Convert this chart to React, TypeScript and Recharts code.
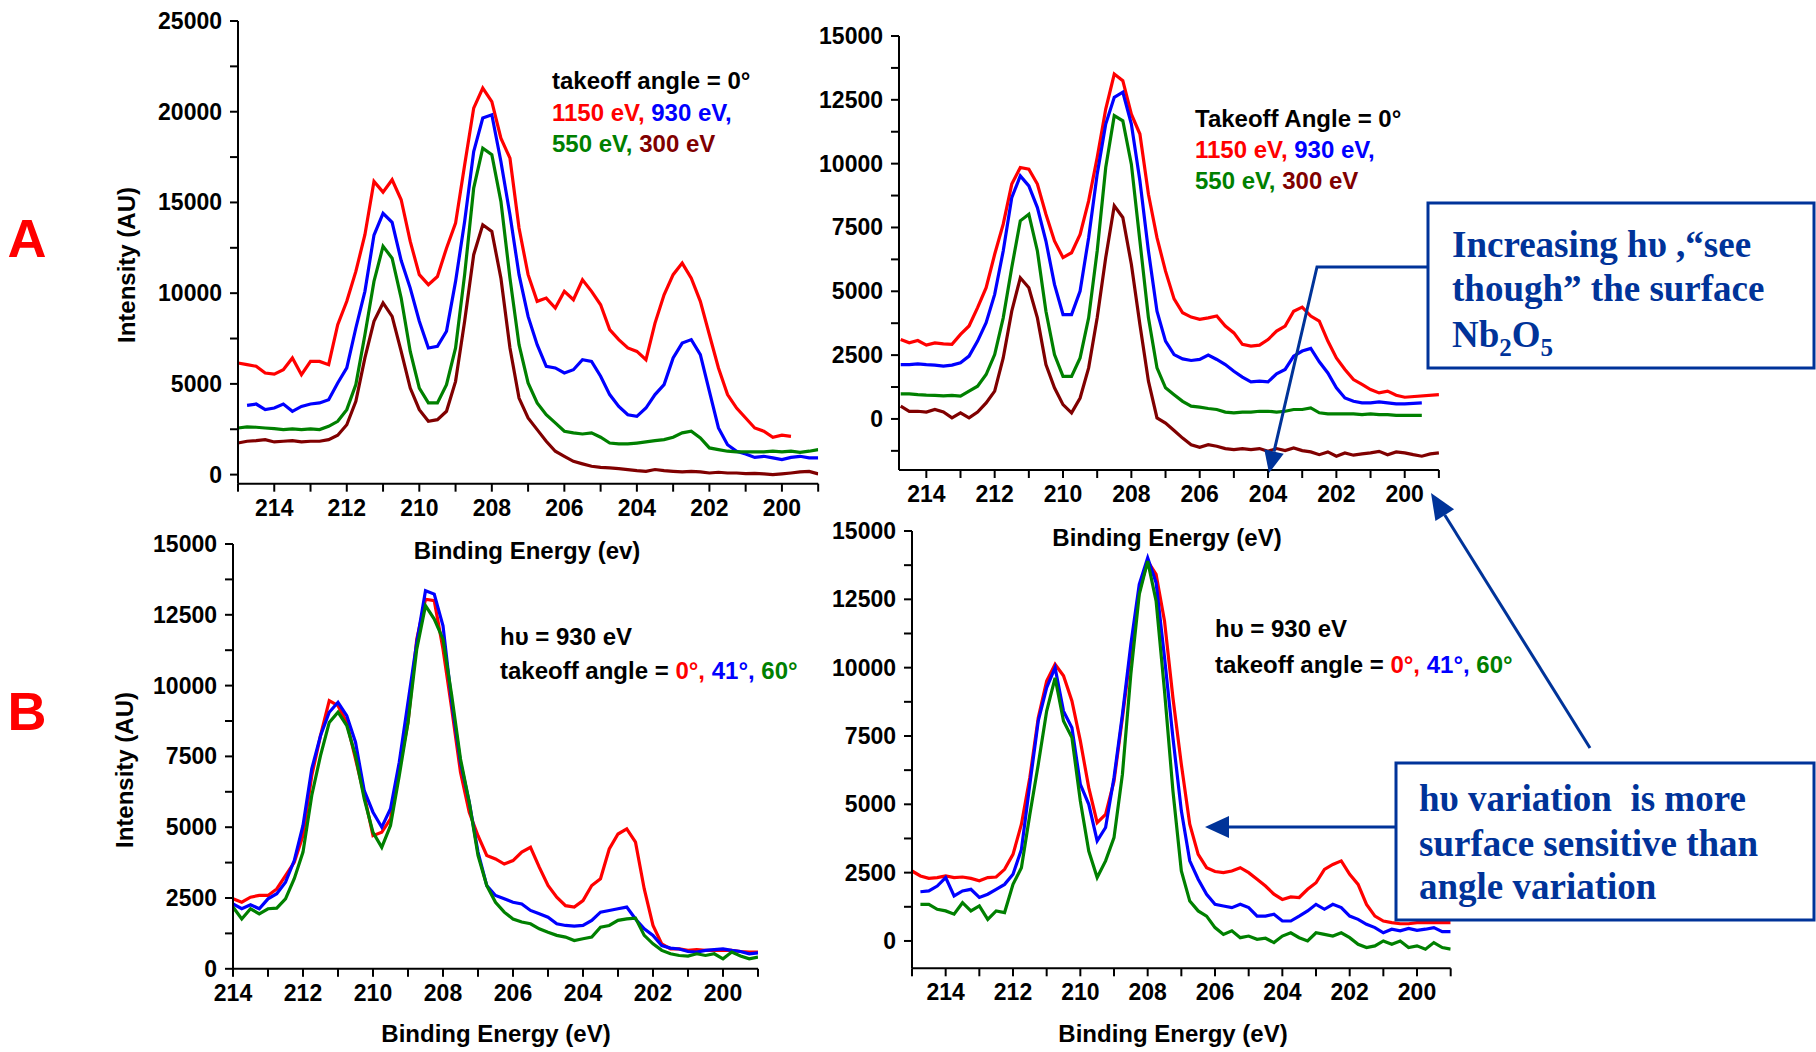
import React from 'react'
import { LineChart, Line, XAxis, YAxis } from 'recharts'

const SANS = "'Liberation Sans', Arial, Helvetica, sans-serif"
const SERIF = "'Liberation Serif', 'Times New Roman', serif"
const RED = '#ff0000'
const BLUE = '#0000ff'
const GREEN = '#008000'
const MAROON = '#800000'
const NAVY = '#003399'

// binding energy grid (eV), high -> low
const ENERGY = [
  215,
  214.75, 214.5, 214.25, 214,
  213.75, 213.5, 213.25, 213,
  212.75, 212.5, 212.25, 212,
  211.75, 211.5, 211.25, 211,
  210.75, 210.5, 210.25, 210,
  209.75, 209.5, 209.25, 209,
  208.75, 208.5, 208.25, 208,
  207.75, 207.5, 207.25, 207,
  206.75, 206.5, 206.25, 206,
  205.75, 205.5, 205.25, 205,
  204.75, 204.5, 204.25, 204,
  203.75, 203.5, 203.25, 203,
  202.75, 202.5, 202.25, 202,
  201.75, 201.5, 201.25, 201,
  200.75, 200.5, 200.25, 200,
  199.75, 199.5, 199.25, 199,
]

// A, left: takeoff angle 0, photon energy series
const A1_1150 = [
  6150,
  6060, 5970, 5600, 5540,
  5780, 6430, 5510, 6240,
  6240, 6060, 8260, 9550,
  11200, 13220, 16160, 15570,
  16250, 15150, 12850, 11020,
  10470, 10920, 12480, 13860,
  17070, 20200, 21300, 20560,
  18540, 17440, 13590, 11020,
  9550, 9730, 9180, 10100,
  9640, 10740, 10100, 9360,
  7990, 7440, 6980, 6790,
  6330, 8350, 9910, 11020,
  11660, 10830, 9550, 7710,
  5880, 4410, 3670, 3120,
  2570, 2390, 2060, 2170,
  2110, null, null, null,
]
const A1_930 = [
  null,
  3820, 3890, 3580, 3670,
  3890, 3490, 3760, 3890,
  3950, 4130, 5050, 5880,
  8080, 10100, 13200, 14400,
  13900, 11800, 10280, 8450,
  6980, 7070, 7900, 10650,
  13950, 17810, 19650, 19830,
  17260, 14320, 11020, 8720,
  7160, 5970, 5880, 5600,
  5780, 6330, 6240, 5420,
  4410, 3760, 3300, 3210,
  3670, 4410, 4960, 6430,
  7250, 7440, 6610, 4590,
  2570, 1650, 1290, 1140,
  950, 1010, 920, 830,
  950, 1010, 920, 920,
]
const A1_550 = [
  2570,
  2630, 2610, 2570, 2530,
  2480, 2520, 2480, 2520,
  2480, 2660, 2940, 3580,
  4960, 7710, 10650, 12580,
  11930, 9730, 6790, 4770,
  3950, 3950, 4960, 6980,
  11020, 15790, 17990, 17630,
  15060, 10830, 7160, 5050,
  3950, 3300, 2850, 2390,
  2300, 2240, 2300, 2060,
  1740, 1690, 1690, 1740,
  1800, 1870, 1930, 2060,
  2300, 2390, 2020, 1470,
  1380, 1290, 1250, 1250,
  1250, 1250, 1290, 1250,
  1290, 1230, 1290, 1380,
]
const A1_300 = [
  1740,
  1840, 1870, 1930, 1800,
  1840, 1870, 1800, 1840,
  1840, 1930, 2170, 2750,
  4040, 6430, 8450, 9460,
  8720, 6790, 4770, 3580,
  2940, 3030, 3490, 5140,
  8450, 12120, 13770, 13400,
  10830, 6980, 4220, 3120,
  2480, 1840, 1290, 1010,
  730, 590, 460, 400,
  370, 330, 280, 220,
  180, 280, 220, 180,
  150, 180, 150, 90,
  130, 90, 90, 60,
  70, 40, 0, 40,
  90, 150, 180, 40,
]

// A, right
const A2_1150 = [
  null,
  3110, 2980, 3070, 2890,
  2980, 2940, 2920, 3310,
  3640, 4360, 5140, 6450,
  7630, 9200, 9850, 9780,
  9200, 8020, 6970, 6320,
  6510, 7230, 8540, 10240,
  12140, 13510, 13250, 11940,
  11160, 8800, 7100, 5790,
  4700, 4160, 3990, 3900,
  3960, 4030, 3640, 3370,
  2920, 2850, 2890, 3110,
  3440, 3640, 4220, 4380,
  4030, 3830, 3050, 2390,
  1940, 1540, 1350, 1150,
  1020, 1090, 930, 850,
  null, null, null, 950,
]
const A2_930 = [
  null,
  2130, 2130, 2160, 2130,
  2110, 2070, 2110, 2200,
  2460, 3050, 3770, 4880,
  6580, 8670, 9520, 9130,
  8280, 6970, 5270, 4090,
  4090, 5010, 7100, 9590,
  11550, 12600, 12800, 11550,
  9330, 6580, 4220, 3050,
  2520, 2350, 2290, 2330,
  2500, 2330, 2130, 1870,
  1640, 1450, 1480, 1450,
  1770, 1940, 2460, 2660,
  2760, 2240, 1800, 1220,
  820, 690, 630, 630,
  670, 630, 590, 590,
  610, 630, null, null,
]
const A2_550 = [
  null,
  980, 980, 950, 930,
  920, 900, 920, 890,
  1090, 1280, 1740, 2520,
  3960, 5930, 7760, 8020,
  6580, 4220, 2520, 1670,
  1670, 2390, 3960, 6580,
  9850, 11880, 11680, 9980,
  6970, 3960, 2000, 1220,
  950, 690, 500, 460,
  410, 370, 270, 240,
  270, 270, 300, 300,
  270, 300, 370, 370,
  430, 240, 200, 200,
  200, 200, 170, 200,
  170, 170, 140, 140,
  140, 140, null, null,
]
const A2_300 = [
  null,
  500, 300, 300, 270,
  370, 270, 40, 240,
  40, 270, 630, 1090,
  2390, 4220, 5530, 5140,
  3960, 2130, 1220, 560,
  240, 820, 2000, 3960,
  6320, 8350, 7890, 6060,
  3700, 1480, 40, -160,
  -450, -750, -1010, -1110,
  -1010, -1070, -1160, -1200,
  -1160, -1200, -1160, -1270,
  -1160, -1240, -1140, -1240,
  -1290, -1400, -1290, -1460,
  -1330, -1420, -1370, -1330,
  -1270, -1400, -1290, -1330,
  -1400, -1460, -1370, -1330,
]

// B, left: hυ = 930 eV, takeoff angle series
const B1_0 = [
  null,
  null, null, null, 2470,
  2350, 2530, 2590, 2590,
  2820, 3290, 3760, 4700,
  6820, 8230, 9470, 9290,
  8700, 7410, 6120, 4700,
  4820, 5290, 7060, 8700,
  11640, 13050, 13000, 11290,
  9170, 6940, 5530, 4700,
  4000, 3880, 3700, 3820,
  4120, 4290, 3590, 2940,
  2530, 2230, 2180, 2410,
  2940, 3180, 4230, 4760,
  4940, 4470, 2820, 1530,
  880, 700, 700, 650,
  680, 650, 650, 650,
  650, 610, 590, 590,
]
const B1_41 = [
  null,
  null, null, null, 2290,
  2120, 2260, 2120, 2470,
  2650, 3060, 3820, 5060,
  7060, 8230, 9060, 9410,
  8940, 8000, 6290, 5530,
  5000, 5650, 7290, 9410,
  11520, 13350, 13230, 12110,
  9410, 7290, 5880, 4120,
  2940, 2590, 2470, 2350,
  2290, 2060, 1940, 1820,
  1590, 1530, 1510, 1530,
  1710, 2000, 2060, 2120,
  2180, 1760, 1410, 1180,
  820, 730, 700, 610,
  590, 650, 680, 700,
  650, 610, 530, 560,
]
const B1_60 = [
  null,
  null, null, null, 2180,
  1760, 2120, 1940, 2120,
  2140, 2470, 3180, 4120,
  6120, 7530, 8700, 9060,
  8590, 7530, 6000, 4820,
  4290, 5060, 6820, 8700,
  11290, 12820, 12350, 11640,
  9640, 7410, 5880, 4000,
  2940, 2350, 2000, 1760,
  1650, 1590, 1410, 1290,
  1180, 1120, 1000, 1060,
  1120, 1470, 1530, 1710,
  1760, 1790, 1180, 880,
  650, 530, 470, 450,
  530, 470, 530, 350,
  590, 450, 350, 410,
]

// B, right
const B2_0 = [
  2560,
  2380, 2290, 2320, 2380,
  2320, 2340, 2290, 2200,
  2320, 2340, 2620, 3170,
  4270, 5980, 8170, 9510,
  10120, 9700, 8780, 7320,
  5610, 4330, 4630, 5850,
  8170, 10610, 12800, 13900,
  13410, 11710, 8900, 6460,
  4270, 3170, 2680, 2540,
  2500, 2560, 2680, 2500,
  2260, 2010, 1710, 1520,
  1610, 1590, 1890, 2130,
  2620, 2800, 2930, 2440,
  2070, 1340, 910, 730,
  670, 630, 630, 670,
  670, 670, 670, 670,
]
const B2_41 = [
  null,
  1800, 1830, 2010, 2320,
  1650, 1830, 1890, 1590,
  1710, 1890, 2070, 2440,
  3350, 5730, 8050, 9270,
  10000, 8410, 7800, 5730,
  5000, 3660, 4150, 5980,
  8290, 10850, 13050, 14020,
  13110, 10370, 7440, 4760,
  2930, 2260, 1710, 1340,
  1280, 1220, 1340, 1220,
  910, 910, 980, 730,
  730, 910, 1100, 1340,
  1160, 1340, 1220, 910,
  790, 610, 490, 300,
  430, 370, 460, 390,
  430, 490, 340, 340,
]
const B2_60 = [
  null,
  1340, 1340, 1160, 1100,
  980, 1400, 1100, 1280,
  790, 1100, 1040, 2070,
  2680, 4630, 6460, 8410,
  9630, 8050, 7440, 5120,
  3290, 2320, 2930, 3780,
  6100, 9760, 12680, 13900,
  12440, 9150, 5490, 2560,
  1460, 1100, 910, 490,
  240, 370, 120, 180,
  60, 100, -60, 180,
  300, 120, 0, 300,
  240, 180, 300, 120,
  -120, -240, -180, 0,
  -120, 0, -240, -180,
  -300, -60, -240, -300,
]

// axis ticks
const X_TICKS_16 = [199, 200, 201, 202, 203, 204, 205, 206, 207, 208, 209, 210, 211, 212, 213, 214, 215]
const X_TICKS_15 = [199, 200, 201, 202, 203, 204, 205, 206, 207, 208, 209, 210, 211, 212, 213, 214]
const Y_TICKS_A1 = [0, 2500, 5000, 7500, 10000, 12500, 15000, 17500, 20000, 22500, 25000]
const Y_TICKS_A2 = [-1250, 0, 1250, 2500, 3750, 5000, 6250, 7500, 8750, 10000, 11250, 12500, 13750, 15000]
const Y_TICKS_B = [0, 1250, 2500, 3750, 5000, 6250, 7500, 8750, 10000, 11250, 12500, 13750, 15000]

const rowsOf = (cols: Record<string, (number | null)[]>) =>
  ENERGY.map((e, i) => {
    const row: Record<string, number | null> = { e }
    Object.keys(cols).forEach((k) => (row[k] = cols[k][i]))
    return row
  })

const XTick = (props: any) => {
  const { x, y, payload } = props
  if (payload.value % 2 !== 0) return <g />
  return (
    <text x={x} y={y} dy={22} textAnchor="middle" fontFamily={SANS} fontWeight="bold" fontSize={23} fill="#000">
      {payload.value}
    </text>
  )
}

const makeYTick = (step: number) => (props: any) => {
  const { x, y, payload } = props
  if (payload.value % step !== 0) return <g />
  return (
    <text x={x} y={y} dy={8} textAnchor="end" fontFamily={SANS} fontWeight="bold" fontSize={23} fill="#000">
      {payload.value}
    </text>
  )
}

interface PanelProps {
  x0: number
  y0: number
  x1: number
  y1: number
  xDomain: [number, number]
  xTicks: number[]
  yDomain: [number, number]
  yTicks: number[]
  labelStep: number
  rows: Record<string, number | null>[]
  lines: { key: string; color: string }[]
}

function Panel({ x0, y0, x1, y1, xDomain, xTicks, yDomain, yTicks, labelStep, rows, lines }: PanelProps) {
  const padL = 130
  const padT = 12
  const padR = 12
  const padB = 50
  const w = x1 - x0 + padL + padR
  const h = y1 - y0 + padT + padB
  const axisStyle = { stroke: '#000', strokeWidth: 2 }
  return (
    <div style={{ position: 'absolute', left: x0 - padL, top: y0 - padT }}>
      <LineChart width={w} height={h} data={rows} margin={{ top: padT, right: padR, left: 0, bottom: 0 }}>
        <XAxis
          type="number"
          dataKey="e"
          domain={xDomain}
          reversed
          allowDataOverflow
          ticks={xTicks}
          interval={0}
          height={padB}
          tickSize={8}
          tickMargin={2}
          axisLine={axisStyle}
          tickLine={axisStyle}
          tick={XTick}
        />
        <YAxis
          type="number"
          domain={yDomain}
          allowDataOverflow
          ticks={yTicks}
          interval={0}
          width={padL}
          tickSize={8}
          tickMargin={8}
          axisLine={axisStyle}
          tickLine={axisStyle}
          tick={makeYTick(labelStep)}
        />
        {lines.map((l) => (
          <Line
            key={l.key}
            type="linear"
            dataKey={l.key}
            stroke={l.color}
            strokeWidth={3.2}
            dot={false}
            connectNulls
            isAnimationActive={false}
          />
        ))}
      </LineChart>
    </div>
  )
}

function arrowHead(x1: number, y1: number, x2: number, y2: number, len: number, half: number) {
  const d = Math.hypot(x2 - x1, y2 - y1)
  const ux = (x2 - x1) / d
  const uy = (y2 - y1) / d
  const bx = x2 - ux * len
  const by = y2 - uy * len
  return {
    base: [bx, by],
    points: `${x2},${y2} ${bx - uy * half},${by + ux * half} ${bx + uy * half},${by - ux * half}`,
  }
}

export default function App() {
  const photonLines = [
    { key: 'p1150', color: RED },
    { key: 'p930', color: BLUE },
    { key: 'p550', color: GREEN },
    { key: 'p300', color: MAROON },
  ]
  const angleLines = [
    { key: 'a0', color: RED },
    { key: 'a41', color: BLUE },
    { key: 'a60', color: GREEN },
  ]
  const txt = { fontFamily: SANS, fontWeight: 'bold' as const, fontSize: 24, xmlSpace: 'preserve' }
  const box = { fontFamily: SERIF, fontWeight: 'bold' as const, fontSize: 37, fill: NAVY, xmlSpace: 'preserve' }

  const ar1 = arrowHead(1317, 267, 1269, 473, 22, 10)
  const ar2 = arrowHead(1590, 748, 1431, 493, 26, 11)
  const ar3 = arrowHead(1396, 827, 1205, 827, 24, 11)

  return (
    <div style={{ position: 'absolute', left: 0, top: 0, width: 1816, height: 1052, background: '#fff' }}>
      <Panel
        x0={237.8}
        y0={21.4}
        x1={818}
        y1={484.1}
        xDomain={[199, 215]}
        xTicks={X_TICKS_16}
        yDomain={[-500, 25000]}
        yTicks={Y_TICKS_A1}
        labelStep={5000}
        rows={rowsOf({ p1150: A1_1150, p930: A1_930, p550: A1_550, p300: A1_300 })}
        lines={photonLines}
      />
      <Panel
        x0={899.3}
        y0={35.7}
        x1={1439.2}
        y1={469.7}
        xDomain={[199, 214.8]}
        xTicks={X_TICKS_15}
        yDomain={[-2000, 15000]}
        yTicks={Y_TICKS_A2}
        labelStep={2500}
        rows={rowsOf({ p1150: A2_1150, p930: A2_930, p550: A2_550, p300: A2_300 })}
        lines={photonLines}
      />
      <Panel
        x0={232.7}
        y0={543.6}
        x1={757.7}
        y1={968.4}
        xDomain={[199, 214]}
        xTicks={X_TICKS_15}
        yDomain={[0, 15000]}
        yTicks={Y_TICKS_B}
        labelStep={2500}
        rows={rowsOf({ a0: B1_0, a41: B1_41, a60: B1_60 })}
        lines={angleLines}
      />
      <Panel
        x0={912.3}
        y0={531.4}
        x1={1451}
        y1={968.7}
        xDomain={[199, 215]}
        xTicks={X_TICKS_16}
        yDomain={[-1000, 15000]}
        yTicks={Y_TICKS_B}
        labelStep={2500}
        rows={rowsOf({ a0: B2_0, a41: B2_41, a60: B2_60 })}
        lines={angleLines}
      />

      <svg
        width={1816}
        height={1052}
        style={{ position: 'absolute', left: 0, top: 0, pointerEvents: 'none' }}
      >
        {/* panel letters */}
        <text x={27} y={257} textAnchor="middle" fontFamily={SANS} fontWeight="bold" fontSize={54} fill={RED}>A</text>
        <text x={27} y={730} textAnchor="middle" fontFamily={SANS} fontWeight="bold" fontSize={54} fill={RED}>B</text>

        {/* axis titles */}
        <text x={527} y={559} textAnchor="middle" {...txt}>Binding Energy (ev)</text>
        <text x={1167} y={546} textAnchor="middle" {...txt}>Binding Energy (eV)</text>
        <text x={496} y={1042} textAnchor="middle" {...txt}>Binding Energy (eV)</text>
        <text x={1173} y={1042} textAnchor="middle" {...txt}>Binding Energy (eV)</text>
        <text transform="translate(135,265) rotate(-90)" textAnchor="middle" {...txt}>Intensity (AU)</text>
        <text transform="translate(133,770) rotate(-90)" textAnchor="middle" {...txt}>Intensity (AU)</text>

        {/* legends, panel A */}
        <text x={552} y={89} {...txt}>takeoff angle = 0°</text>
        <text x={552} y={121} {...txt}>
          <tspan fill={RED}>1150 eV,</tspan>
          <tspan fill={BLUE}> 930 eV,</tspan>
        </text>
        <text x={552} y={152} {...txt}>
          <tspan fill={GREEN}>550 eV,</tspan>
          <tspan fill={MAROON}> 300 eV</tspan>
        </text>
        <text x={1195} y={127} {...txt}>Takeoff Angle = 0°</text>
        <text x={1195} y={158} {...txt}>
          <tspan fill={RED}>1150 eV,</tspan>
          <tspan fill={BLUE}> 930 eV,</tspan>
        </text>
        <text x={1195} y={189} {...txt}>
          <tspan fill={GREEN}>550 eV,</tspan>
          <tspan fill={MAROON}> 300 eV</tspan>
        </text>

        {/* legends, panel B */}
        <text x={500} y={645} {...txt}>hυ = 930 eV</text>
        <text x={500} y={679} {...txt}>
          <tspan>takeoff angle = </tspan>
          <tspan fill={RED}>0°,</tspan>
          <tspan fill={BLUE}> 41°,</tspan>
          <tspan fill={GREEN}> 60°</tspan>
        </text>
        <text x={1215} y={637} {...txt}>hυ = 930 eV</text>
        <text x={1215} y={673} {...txt}>
          <tspan>takeoff angle = </tspan>
          <tspan fill={RED}>0°,</tspan>
          <tspan fill={BLUE}> 41°,</tspan>
          <tspan fill={GREEN}> 60°</tspan>
        </text>

        {/* annotation 1 */}
        <rect x={1428} y={203} width={386} height={165} fill="#fff" stroke={NAVY} strokeWidth={3} />
        <text x={1452} y={257} {...box}>Increasing hυ ,“see</text>
        <text x={1452} y={301} {...box}>though” the surface</text>
        <text x={1452} y={347} {...box}>
          <tspan>Nb</tspan>
          <tspan fontSize={25} dy={9}>2</tspan>
          <tspan dy={-9}>O</tspan>
          <tspan fontSize={25} dy={9}>5</tspan>
        </text>
        <polyline
          points={`1428,267 1317,267 ${ar1.base[0]},${ar1.base[1]}`}
          fill="none"
          stroke={NAVY}
          strokeWidth={3}
        />
        <polygon points={ar1.points} fill={NAVY} />

        {/* annotation 2 */}
        <rect x={1396} y={763} width={418} height={157} fill="#fff" stroke={NAVY} strokeWidth={3} />
        <text x={1419} y={811} {...box}>hυ variation  is more</text>
        <text x={1419} y={856} {...box}>surface sensitive than</text>
        <text x={1419} y={899} {...box}>angle variation</text>
        <line x1={1396} y1={827} x2={ar3.base[0]} y2={ar3.base[1]} stroke={NAVY} strokeWidth={3} />
        <polygon points={ar3.points} fill={NAVY} />
        <line x1={1590} y1={748} x2={ar2.base[0]} y2={ar2.base[1]} stroke={NAVY} strokeWidth={3} />
        <polygon points={ar2.points} fill={NAVY} />
      </svg>
    </div>
  )
}
